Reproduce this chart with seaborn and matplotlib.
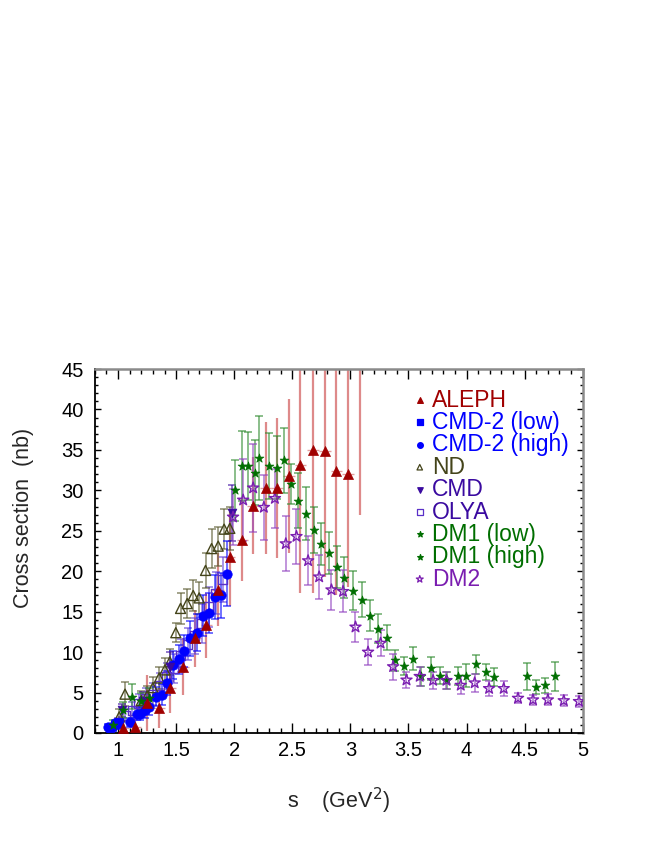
import numpy as np
import matplotlib
matplotlib.use('Agg')
import matplotlib.pyplot as plt
import seaborn as sns
from matplotlib.ticker import MultipleLocator

# ALEPH (tau data)
aleph_s = [1.04, 1.15, 1.25, 1.35, 1.45, 1.56, 1.66, 1.76, 1.86, 1.96, 2.07, 2.16, 2.27, 2.37, 2.47,
           2.57, 2.68, 2.78, 2.88, 2.98, 3.08]
aleph_sig = [0.6, 0.8, 3.7, 3.1, 5.5, 8.2, 11.7, 13.3, 17.7, 21.7, 23.9, 28.1, 30.3, 30.3, 31.8,
             33.1, 35.0, 34.9, 32.4, 32.0, 47.0]
aleph_err = [0.8, 1.5, 3.5, 2.5, 3.0, 3.5, 3.5, 4.0, 4.5, 6.0, 5.1, 6.0, 8.2, 8.7, 9.5,
             15.8, 17.7, 15.6, 15.4, 13.9, 20.0]

# CMD-2 (low)
cmd2l_s = [0.93, 0.95, 0.97, 0.99, 1.01]
cmd2l_sig = [0.6, 0.8, 1.0, 1.1, 1.3]
cmd2l_err = [0.2, 0.2, 0.3, 0.3, 0.3]

# CMD-2 (high)
cmd2h_s = [0.915, 0.972, 1.10, 1.16, 1.19, 1.23, 1.27, 1.33, 1.374, 1.42, 1.474, 1.523, 1.569,
           1.618, 1.676, 1.727, 1.779, 1.833, 1.89, 1.942]
cmd2h_sig = [0.78, 1.2, 1.3, 2.35, 2.4, 2.9, 3.25, 4.5, 4.7, 6.2, 8.4, 9.1, 10.1,
             11.7, 12.4, 14.5, 14.8, 16.8, 17.0, 19.7]
cmd2h_err = [0.3, 0.4, 0.6, 0.8, 0.8, 1.0, 1.0, 1.2, 1.3, 1.5, 1.7, 1.8, 2.0,
             2.2, 2.3, 2.5, 2.5, 2.7, 2.8, 4.0]

# ND
nd_s = [1.01, 1.06, 1.2, 1.25, 1.3, 1.354, 1.403, 1.446, 1.497, 1.538, 1.595, 1.647, 1.698,
        1.753, 1.805, 1.862, 1.913, 1.962]
nd_sig = [2.0, 4.8, 4.0, 4.6, 5.6, 6.8, 7.8, 8.8, 12.4, 15.4, 16.0, 17.0, 16.7,
          20.1, 22.8, 23.1, 25.2, 25.3]
nd_err = [1.0, 1.5, 1.2, 1.2, 1.3, 1.4, 1.5, 1.6, 1.2, 1.9, 1.8, 1.9, 2.0,
          2.2, 2.4, 2.4, 2.5, 2.7]

# CMD
cmd_s = [1.03, 1.216, 1.446, 1.985]
cmd_sig = [2.8, 3.9, 8.2, 27.2]
cmd_err = [0.8, 1.2, 1.8, 3.5]

# OLYA
olya_s = [1.0, 1.06, 1.12, 1.18, 1.24, 1.30, 1.36, 1.42, 1.48, 1.54, 1.60, 1.66, 1.72, 1.78, 1.84, 1.90]
olya_sig = [1.3, 2.2, 2.8, 3.6, 4.3, 4.8, 5.9, 7.0, 8.0, 9.6, 11.0, 12.0, 13.5, 15.6, 17.3, 19.0]
olya_err = [0.5, 0.8, 1.0, 1.2, 1.3, 1.4, 1.5, 1.6, 1.8, 2.0, 2.0, 2.2, 2.4, 2.5, 2.6, 2.8]

# DM1 (low)
dm1l_s = [0.958, 1.039, 1.116, 1.2, 1.27]
dm1l_sig = [1.0, 2.8, 4.5, 3.9, 4.3]
dm1l_err = [0.6, 1.0, 1.5, 1.0, 1.2]

# DM1 (high)
dm1h_s = [2.005, 2.063, 2.12, 2.177, 2.215, 2.30, 2.364, 2.427, 2.487, 2.545, 2.616, 2.685,
          2.751, 2.817, 2.883, 2.949, 3.023, 3.098, 3.167, 3.238, 3.316, 3.388, 3.462, 3.54,
          3.612, 3.69, 3.775, 3.832, 3.927, 3.993, 4.085, 4.171, 4.237, 4.52, 4.595, 4.673, 4.759]
dm1h_sig = [30.0, 33.0, 33.0, 32.2, 34.0, 33.0, 32.8, 33.7, 30.8, 28.7, 27.1, 25.1,
            23.4, 22.3, 20.5, 19.2, 17.6, 16.5, 14.5, 12.9, 11.8, 9.0, 8.3, 9.2,
            7.0, 8.0, 7.1, 6.5, 7.0, 7.1, 8.5, 7.5, 6.9, 7.0, 5.7, 5.9, 7.0]
dm1h_err = [3.75, 4.3, 4.2, 4.0, 5.2, 4.1, 3.9, 4.0, 2.5, 3.4, 3.3, 2.8,
            2.6, 2.6, 2.6, 2.5, 2.4, 2.2, 1.9, 1.75, 1.6, 1.3, 1.1, 1.4,
            1.2, 1.45, 1.1, 1.1, 1.1, 1.4, 1.2, 1.0, 1.1, 1.7, 0.9, 0.95, 1.8]

# DM2
dm2_s = [1.99, 2.077, 2.163, 2.255, 2.35, 2.444, 2.536, 2.636, 2.731, 2.837, 2.937, 3.044,
         3.152, 3.26, 3.368, 3.483, 3.597, 3.712, 3.827, 3.95, 4.07, 4.194, 4.32, 4.443,
         4.572, 4.70, 4.837, 4.968]
dm2_sig = [26.7, 28.8, 30.3, 27.9, 29.0, 23.4, 24.3, 21.3, 19.3, 17.7, 17.5, 13.1,
           10.0, 11.1, 8.2, 6.55, 7.0, 6.5, 6.5, 5.9, 6.2, 5.5, 5.5, 4.3,
           4.1, 4.1, 4.0, 3.9]
dm2_err = [3.5, 5.1, 5.4, 4.0, 3.6, 3.4, 3.4, 3.0, 2.7, 2.5, 2.6, 1.85,
           1.65, 1.6, 1.6, 1.0, 1.15, 1.1, 1.1, 1.1, 1.1, 0.95, 0.95, 0.65,
           0.6, 0.7, 0.7, 0.65]

legend_labels = ['ALEPH', 'CMD-2 (low)', 'CMD-2 (high)', 'ND', 'CMD', 'OLYA',
                 'DM1 (low)', 'DM1 (high)', 'DM2']

sns.set_style('ticks')
plt.rcParams['font.family'] = ['Liberation Sans', 'DejaVu Sans']

c_aleph = '#a00000'
c_cmd2 = '#0000ff'
c_nd = '#44441a'
c_cmd = '#3a0aa0'
c_olya = '#5a30c8'
c_dm1 = '#006e00'
c_dm2 = '#7a1db0'

fig = plt.figure(figsize=(6.54, 8.46), dpi=100)
ax = fig.add_axes([0.145, 0.1336, 0.746, 0.4302])

# (x, y, err, colour, marker, size, filled, bar colour)
series = [
    (olya_s, olya_sig, olya_err, c_olya, 's', 42, False, '#6040d8'),
    (nd_s, nd_sig, nd_err, c_nd, '^', 52, False, '#5a5a30'),
    (cmd2l_s, cmd2l_sig, cmd2l_err, c_cmd2, 's', 34, True, c_cmd2),
    (cmd2h_s, cmd2h_sig, cmd2h_err, c_cmd2, 'o', 46, True, c_cmd2),
    (cmd_s, cmd_sig, cmd_err, c_cmd, 'v', 40, True, c_cmd),
    (dm1l_s, dm1l_sig, dm1l_err, c_dm1, '*', 44, True, '#2e8b2e'),
    (dm1h_s, dm1h_sig, dm1h_err, c_dm1, '*', 44, True, '#2e8b2e'),
    (dm2_s, dm2_sig, dm2_err, c_dm2, '*', 70, False, '#9040c0'),
]

# ALEPH: long error bars without caps plus bin-width bars
ax.errorbar(aleph_s, aleph_sig, yerr=aleph_err, fmt='none', ecolor='#c83c3c',
            elinewidth=1.6, capsize=0, alpha=0.6, zorder=2)
ax.errorbar(aleph_s, aleph_sig, xerr=0.05, fmt='none', ecolor='#d06060',
            elinewidth=1.0, capsize=0, alpha=0.6, zorder=2, linestyle='--')

for xs, ys, es, c, m, s, filled, bc in series:
    ax.errorbar(xs, ys, yerr=es, fmt='none', ecolor=bc, elinewidth=1.2,
                capsize=3, capthick=1.2, alpha=0.65, zorder=2)

for xs, ys, es, c, m, s, filled, bc in series:
    if filled:
        sns.scatterplot(x=xs, y=ys, ax=ax, marker=m, s=s, color=c,
                        edgecolor=c, linewidth=0.5, zorder=4)
    else:
        sns.scatterplot(x=xs, y=ys, ax=ax, marker=m, s=s, facecolor='none',
                        edgecolor=c, linewidth=1.0, zorder=4)

sns.scatterplot(x=aleph_s, y=aleph_sig, ax=ax, marker='^', s=52, color=c_aleph,
                edgecolor=c_aleph, linewidth=0.5, zorder=5)

ax.set_xlim(0.8, 5.0)
ax.set_ylim(0, 45)
ax.xaxis.set_major_locator(MultipleLocator(0.5))
ax.xaxis.set_minor_locator(MultipleLocator(0.1))
ax.yaxis.set_major_locator(MultipleLocator(5))
ax.yaxis.set_minor_locator(MultipleLocator(1))
ax.set_xticks(np.arange(1.0, 5.01, 0.5))
ax.set_xticklabels(['1', '1.5', '2', '2.5', '3', '3.5', '4', '4.5', '5'])
ax.tick_params(axis='both', which='both', direction='in', top=True, right=True,
               labelsize=14.5, width=1.0, colors='black')
ax.tick_params(axis='x', which='major', length=7, pad=6)
ax.tick_params(axis='x', which='minor', length=3.5)
ax.tick_params(axis='y', which='major', length=4.5, pad=8)
ax.tick_params(axis='y', which='minor', length=2.5)

for side in ['left', 'bottom']:
    ax.spines[side].set_linewidth(1.3)
    ax.spines[side].set_color('black')
for side in ['top', 'right']:
    ax.spines[side].set_linewidth(1.8)
    ax.spines[side].set_color('#8a8a8a')

ax.set_xlabel('s    (GeV$^2$)', fontsize=15.5)
ax.set_ylabel('Cross section  (nb)', fontsize=15.5)
ax.xaxis.set_label_coords(0.5, -0.145)
ax.yaxis.set_label_coords(-0.124, 0.59)

# legend drawn as marker + coloured text
leg_style = [
    ('^', c_aleph, True, 28), ('s', c_cmd2, True, 26), ('o', c_cmd2, True, 28),
    ('^', c_nd, False, 26), ('v', c_cmd, True, 26), ('s', c_olya, False, 28),
    ('*', c_dm1, True, 30), ('*', c_dm1, True, 30), ('*', c_dm2, False, 45),
]
for i, (label, (m, c, filled, s)) in enumerate(zip(legend_labels, leg_style)):
    yy = (733 - (400 + 22.4 * i)) / 364
    ax.scatter([0.666], [yy], transform=ax.transAxes, marker=m, s=s * 0.6,
               facecolor=c if filled else 'none', edgecolor=c, linewidth=0.9,
               zorder=6, clip_on=False)
    ax.text(0.691, yy, label, transform=ax.transAxes, color=c if i != 5 else c_cmd,
            fontsize=16.5, va='center', ha='left', zorder=6)

fig.savefig('out.png', dpi=100)
